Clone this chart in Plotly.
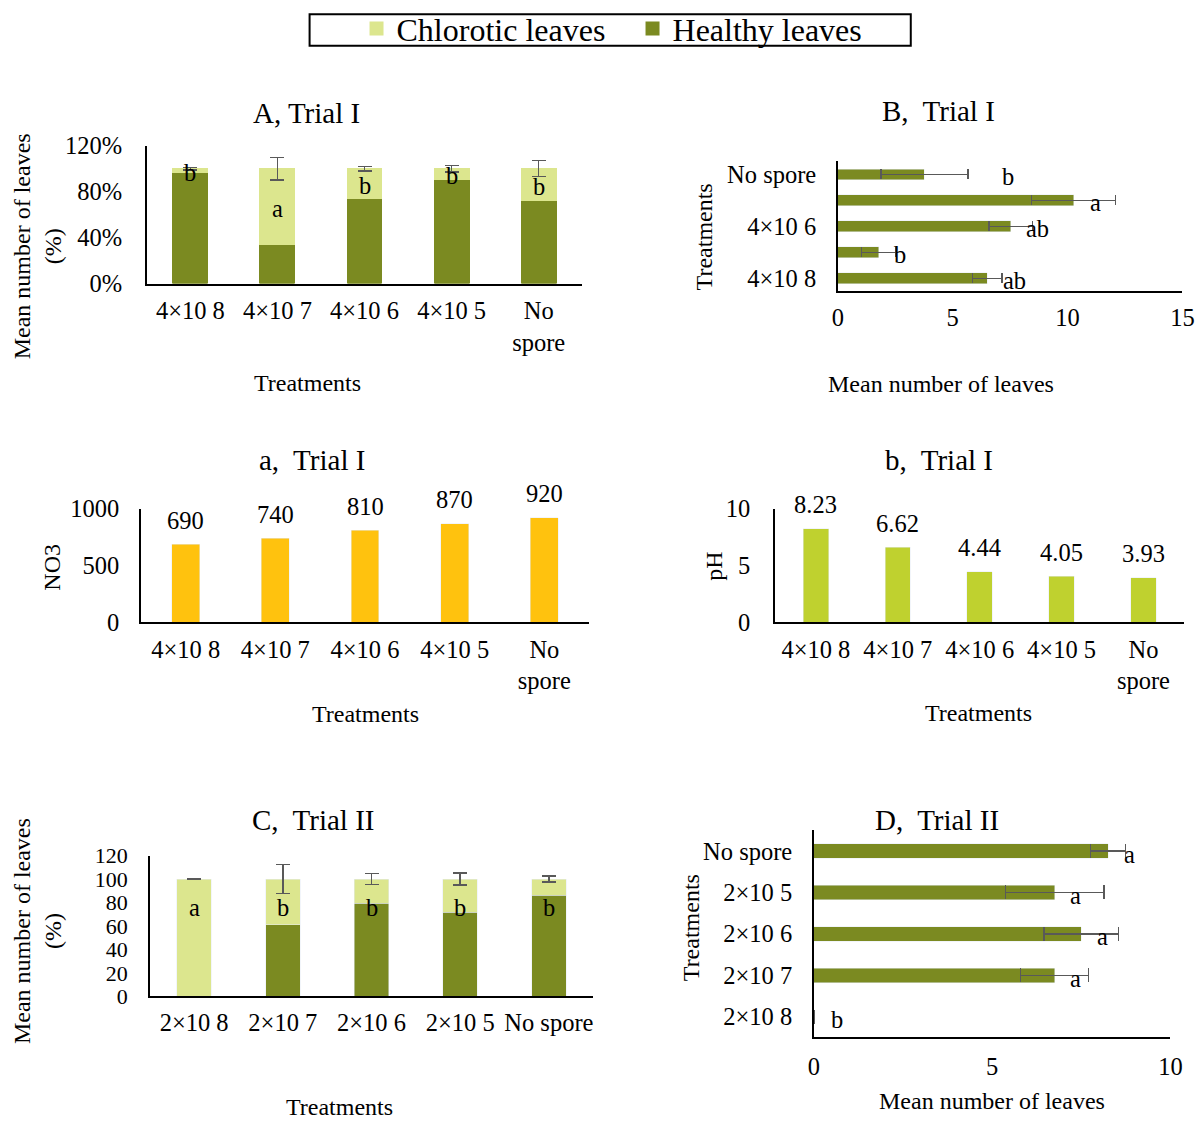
import plotly.graph_objects as go

FONT = "Liberation Serif"
HEALTHY = "#7B8A21"
CHLOROTIC = "#DCE68E"
NO3_COLOR = "#FFC20E"
PH_COLOR = "#BFD12F"
ERR = "#595959"

# ---------------- data ----------------
trial1 = ["4×10 8", "4×10 7", "4×10 6", "4×10 5", "No spore"]
trial1_ticks = ["4×10 8", "4×10 7", "4×10 6", "4×10 5", "No<br>spore"]
trial2 = ["2×10 8", "2×10 7", "2×10 6", "2×10 5", "No spore"]

# A, Trial I : share of leaves (%)
a_healthy = [96.8, 34.3, 74.4, 90.9, 72.6]
a_chlorotic = [3.2, 65.7, 25.6, 9.1, 27.4]
a_err = [1.0, 9.7, 1.9, 2.8, 7.0]
a_letters = ["b", "a", "b", "b", "b"]
a_letter_y = [97, 65, 85, 94, 84.5]
pct_ticks = [0, 40, 80, 120]
pct_labels = ["0%", "40%", "80%", "120%"]

# B, Trial I : mean number of leaves
b_leaves = [6.5, 1.78, 7.52, 10.26, 3.77]
b_err = [0.64, 0.76, 0.95, 1.83, 1.89]
b_letters = ["ab", "b", "ab", "a", "b"]
b_letter_x = [7.7, 2.7, 8.7, 11.2, 7.4]
b_shown_ticks = ["4×10 8", "4×10 6", "No spore"]

# a, Trial I : NO3
no3 = [690, 740, 810, 870, 920]

# b, Trial I : pH
ph = [8.23, 6.62, 4.44, 4.05, 3.93]

# C, Trial II : share of leaves (%)
c_healthy = [0, 61, 79.4, 71.5, 86.2]
c_chlorotic = [100, 39, 20.6, 28.5, 13.8]
c_err = [0.3, 12.3, 4.5, 5.3, 2.6]
c_letters = ["a", "b", "b", "b", "b"]
c_letter_y = [75.7, 75.7, 75.7, 75.7, 75.7]

# D, Trial II : mean number of leaves
d_leaves = [0, 6.75, 7.5, 6.75, 8.25]
d_err = [0, 0.95, 1.04, 1.38, 0.49]
d_letters = ["b", "a", "a", "a", "a"]
d_letter_x = [0.64, 7.33, 8.09, 7.33, 8.85]

W, H = 1197, 1123


# layout helpers: pixel positions on the page -> paper fractions
def px(x):
    return ((x - 4.0) / 0.9863) / W


def py(y):
    return 1 - ((y - 13.25) / 0.9777) / H


fig = go.Figure()

# ---- A: stacked percentages (these two traces also feed the legend) ----
fig.add_trace(go.Bar(x=trial1, y=a_healthy, name="Healthy leaves", marker_color=HEALTHY,
                     marker_line=dict(color=HEALTHY, width=2),
                     width=0.39, xaxis="x", yaxis="y", legendrank=2))
fig.add_trace(go.Bar(x=trial1, y=a_chlorotic, name="Chlorotic leaves", marker_color=CHLOROTIC,
                     marker_line=dict(color=CHLOROTIC, width=2),
                     width=0.39, xaxis="x", yaxis="y", legendrank=1,
                     error_y=dict(type="data", array=a_err, color=ERR, thickness=1.5, width=7)))

# ---- B: horizontal means ----
fig.add_trace(go.Bar(y=trial1, x=b_leaves, orientation="h", marker_color=HEALTHY, width=0.42,
                     xaxis="x2", yaxis="y2", showlegend=False,
                     error_x=dict(type="data", array=b_err, color=ERR, thickness=1.5, width=5)))

# ---- a: NO3 ----
fig.add_trace(go.Bar(x=trial1, y=no3, marker_color=NO3_COLOR, width=0.31,
                     xaxis="x3", yaxis="y3", showlegend=False))

# ---- b: pH ----
fig.add_trace(go.Bar(x=trial1, y=ph, marker_color=PH_COLOR, width=0.31,
                     xaxis="x4", yaxis="y4", showlegend=False))

# ---- C: stacked percentages ----
fig.add_trace(go.Bar(x=trial2, y=c_healthy, name="Healthy leaves", marker_color=HEALTHY,
                     width=0.39, xaxis="x5", yaxis="y5", showlegend=False))
fig.add_trace(go.Bar(x=trial2, y=c_chlorotic, name="Chlorotic leaves", marker_color=CHLOROTIC,
                     width=0.39, xaxis="x5", yaxis="y5", showlegend=False,
                     error_y=dict(type="data", array=c_err, color=ERR, thickness=1.5, width=7)))

# ---- D: horizontal means ----
fig.add_trace(go.Bar(y=trial2, x=d_leaves, orientation="h", marker_color=HEALTHY, width=0.35,
                     xaxis="x6", yaxis="y6", showlegend=False,
                     error_x=dict(type="data", array=d_err, color=ERR, thickness=1.5, width=7)))

tickfont = dict(family=FONT, size=24.5, color="black")
base = dict(showgrid=False, zeroline=False, showline=True, linecolor="black", linewidth=1.5,
            ticks="", tickfont=tickfont, fixedrange=True)
XS = 4   # gap between x axis line and its labels
YS = 16  # gap between y axis line and its labels

layout_axes = dict(
    xaxis=dict(base, domain=[px(145), px(581)], anchor="y", type="category", range=[-0.5, 4.5],
               tickvals=trial1, ticktext=trial1_ticks, ticklabelstandoff=XS),
    yaxis=dict(base, domain=[py(284.3), py(146.2)], anchor="x", range=[0, 120],
               tickvals=pct_ticks, ticktext=pct_labels, ticklabelstandoff=18),
    xaxis2=dict(base, domain=[px(837), px(1182)], anchor="y2", range=[0, 15],
                tickvals=[0, 5, 10, 15], ticklabelstandoff=XS),
    yaxis2=dict(base, domain=[py(292), py(162)], anchor="x2", type="category", range=[-0.5, 4.5],
                tickvals=b_shown_ticks, ticktext=b_shown_ticks, ticklabelstandoff=YS - 1),
    xaxis3=dict(base, domain=[px(139), px(588)], anchor="y3", type="category", range=[-0.5, 4.5],
                tickvals=trial1, ticktext=trial1_ticks, ticklabelstandoff=XS),
    yaxis3=dict(base, domain=[py(623.7), py(510)], anchor="x3", range=[0, 1000],
                tickvals=[0, 500, 1000], ticklabelstandoff=YS - 1),
    xaxis4=dict(base, domain=[px(774), px(1184)], anchor="y4", type="category", range=[-0.5, 4.5],
                tickvals=trial1, ticktext=trial1_ticks, ticklabelstandoff=XS),
    yaxis4=dict(base, domain=[py(623.7), py(510)], anchor="x4", range=[0, 10],
                tickvals=[0, 5, 10], ticklabelstandoff=YS + 2),
    xaxis5=dict(base, domain=[px(148), px(592)], anchor="y5", type="category", range=[-0.5, 4.5],
                tickvals=trial2, ticktext=trial2, ticklabelstandoff=XS),
    yaxis5=dict(base, domain=[py(998.3), py(857.3)], anchor="x5", range=[0, 120],
                tickvals=[0, 20, 40, 60, 80, 100, 120], ticklabelstandoff=YS,
                tickfont=dict(family=FONT, size=22, color="black")),
    xaxis6=dict(base, domain=[px(813), px(1170)], anchor="y6", range=[0, 10],
                tickvals=[0, 5, 10], ticklabelstandoff=XS + 2),
    yaxis6=dict(base, domain=[py(1039.5), py(832)], anchor="x6", type="category", range=[-0.5, 4.5],
                tickvals=trial2, ticktext=trial2, ticklabelstandoff=YS - 1),
)

annotations = []


def paper_text(text, x, y, size, angle=0):
    annotations.append(dict(text=text, x=px(x), y=py(y), xref="paper", yref="paper",
                            xanchor="center", yanchor="middle", showarrow=False,
                            textangle=angle, font=dict(family=FONT, size=size, color="black")))


TITLE = 29
AXT = 24

# panel titles
paper_text("A, Trial I", 305, 113, TITLE)
paper_text("B,\u00a0 Trial I", 938, 111, TITLE)
paper_text("a,\u00a0 Trial I", 310, 461, TITLE)
paper_text("b,\u00a0 Trial I", 938, 461, TITLE)
paper_text("C,\u00a0 Trial II", 311, 822, TITLE)
paper_text("D,\u00a0 Trial II", 936, 822, TITLE)

# axis titles
paper_text("Treatments", 306, 384, AXT)
paper_text("Mean number of leaves<br>(%)", 35, 247, AXT, -90)
paper_text("Treatments", 703, 238, AXT, -90)
paper_text("Mean number of leaves", 940, 385, AXT)
paper_text("NO3", 50, 568, AXT, -90)
paper_text("Treatments", 364, 716, AXT)
paper_text("pH", 713, 568, AXT, -90)
paper_text("Treatments", 978, 715, AXT)
paper_text("Mean number of leaves<br>(%)", 35, 933, AXT, -90)
paper_text("Treatments", 338, 1109, AXT)
paper_text("Treatments", 690, 930, AXT, -90)
paper_text("Mean number of leaves", 991, 1103, AXT)

letter_font = dict(family=FONT, size=24.5, color="black")

# significance letters
for cat, lab, yv in zip(trial1, a_letters, a_letter_y):
    annotations.append(dict(text=lab, x=cat, y=yv, xref="x", yref="y", showarrow=False,
                            font=letter_font))
for cat, lab, xv in zip(trial1, b_letters, b_letter_x):
    annotations.append(dict(text=lab, x=xv, y=cat, xref="x2", yref="y2", showarrow=False,
                            yshift=-2, font=letter_font))
for cat, lab, yv in zip(trial2, c_letters, c_letter_y):
    annotations.append(dict(text=lab, x=cat, y=yv, xref="x5", yref="y5", showarrow=False,
                            font=letter_font))
for cat, lab, xv in zip(trial2, d_letters, d_letter_x):
    annotations.append(dict(text=lab, x=xv, y=cat, xref="x6", yref="y6", showarrow=False,
                            yshift=-3, font=letter_font))

# value labels above the NO3 and pH bars
for cat, v in zip(trial1, no3):
    annotations.append(dict(text=f"{v}", x=cat, y=v, xref="x3", yref="y3", showarrow=False,
                            yanchor="middle", yshift=24, font=letter_font))
for cat, v in zip(trial1, ph):
    annotations.append(dict(text=f"{v:.2f}", x=cat, y=v, xref="x4", yref="y4", showarrow=False,
                            yanchor="middle", yshift=24, font=letter_font))

fig.update_layout(
    width=W, height=H, autosize=False,
    margin=dict(l=0, r=0, t=0, b=0),
    paper_bgcolor="white", plot_bgcolor="white",
    barmode="stack",
    font=dict(family=FONT, color="black"),
    showlegend=True,
    legend=dict(orientation="h", x=px(355), xanchor="left", y=py(29), yanchor="middle",
                font=dict(family=FONT, size=32, color="black"), borderwidth=0,
                bgcolor="rgba(0,0,0,0)", entrywidth=231, traceorder="normal"),
    shapes=[dict(type="rect", xref="paper", yref="paper", x0=px(308), x1=px(910),
                 y0=py(46), y1=1 - 1.2 / H, line=dict(color="black", width=2))],
    annotations=annotations,
    **layout_axes,
)

fig.write_html("out.html")
